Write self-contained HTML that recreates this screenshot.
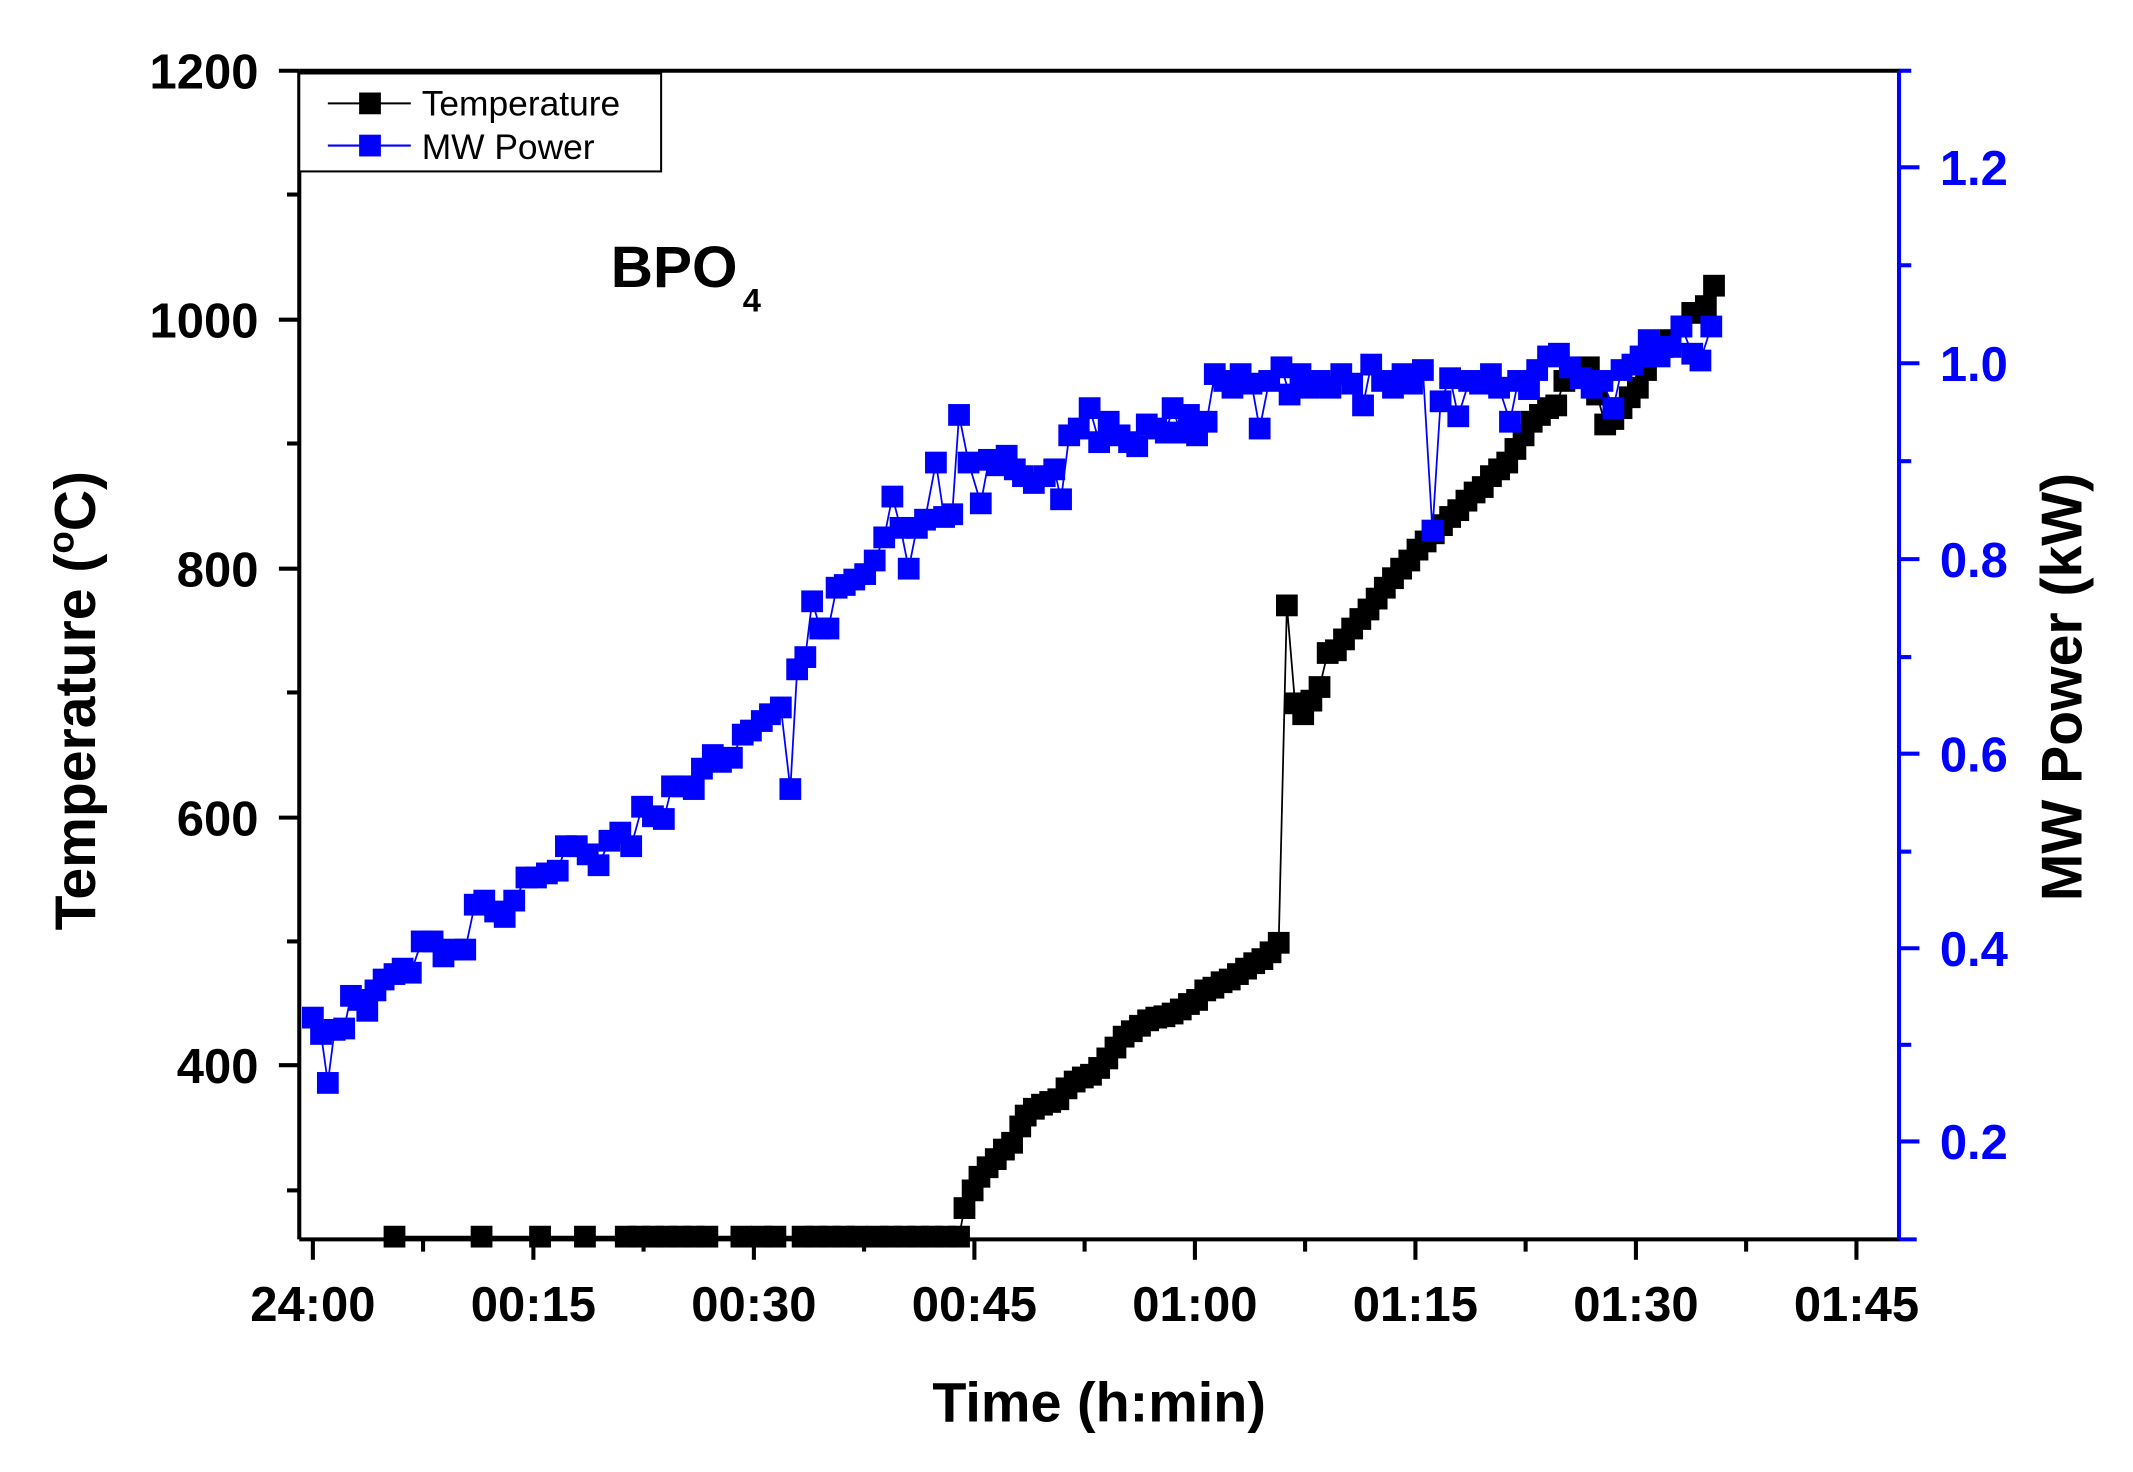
<!DOCTYPE html>
<html><head><meta charset="utf-8"><style>
html,body{margin:0;padding:0;background:#fff;}
svg{display:block;}
text{font-family:"Liberation Sans",Arial,sans-serif;font-weight:bold;}
</style></head><body>
<svg id="s" width="2133" height="1472" viewBox="0 0 1568 1082" preserveAspectRatio="none" xmlns="http://www.w3.org/2000/svg">
<rect width="1568" height="1082" fill="#fff"/>
<g id="data"></g>
<line x1="220" y1="52" x2="1397" y2="52" stroke="#000" stroke-width="3"/>
<line x1="220" y1="911" x2="1397" y2="911" stroke="#000" stroke-width="3"/>
<line x1="220" y1="52" x2="220" y2="911" stroke="#000" stroke-width="3"/>
<line x1="1396" y1="52" x2="1396" y2="911" stroke="#00f" stroke-width="3"/>
<line x1="1396" y1="911" x2="1409" y2="911" stroke="#00f" stroke-width="3"/>
<g id="ticks"></g>
<rect x="220" y="54" width="266" height="72" fill="#fff" stroke="#000" stroke-width="1.5"/>
<line x1="241" y1="76" x2="302" y2="76" stroke="#000" stroke-width="1.5"/>
<rect x="264" y="68" width="16" height="16" fill="#000"/>
<text x="310" y="85" font-size="26" style="font-weight:normal">Temperature</text>
<line x1="241" y1="107" x2="302" y2="107" stroke="#00f" stroke-width="1.5"/>
<rect x="264" y="99" width="16" height="16" fill="#00f"/>
<text x="310" y="117" font-size="26" style="font-weight:normal">MW Power</text>
<text x="449" y="211" font-size="43">BPO</text>
<text x="546" y="229" font-size="24">4</text>
<text transform="translate(70,515) rotate(-90)" text-anchor="middle" font-size="42">Temperature (<tspan font-size="27" dy="-16">o</tspan><tspan dy="16">C)</tspan></text>
<text transform="translate(1530,505) rotate(-90)" text-anchor="middle" font-size="42">MW Power (kW)</text>
<text x="808" y="1045" text-anchor="middle" font-size="41">Time (h:min)</text>
</svg>
<script>
var NS="http://www.w3.org/2000/svg";
function el(p,t,a,txt){var e=document.createElementNS(NS,t);for(var k in a)e.setAttribute(k,a[k]);if(txt)e.textContent=txt;p.appendChild(e);return e;}
var T=document.getElementById("ticks"),D=document.getElementById("data");
[[1200,52],[1000,235],[800,418],[600,601],[400,783]].forEach(function(v){
 el(T,"line",{x1:205,y1:v[1],x2:220,y2:v[1],stroke:"#000","stroke-width":3});
 el(T,"text",{x:190,y:v[1]+13,"text-anchor":"end","font-size":36},String(v[0]));});
[143,326,509,692,875].forEach(function(y){el(T,"line",{x1:211,y1:y,x2:220,y2:y,stroke:"#000","stroke-width":3});});
[["1.2",123],["1.0",267],["0.8",411],["0.6",554],["0.4",697],["0.2",839]].forEach(function(v){
 el(T,"line",{x1:1396,y1:v[1],x2:1411,y2:v[1],stroke:"#00f","stroke-width":3});
 el(T,"text",{x:1426,y:v[1]+13,"font-size":36,fill:"#00f"},v[0]);});
[52,195,339,483,626,768].forEach(function(y){el(T,"line",{x1:1396,y1:y,x2:1405,y2:y,stroke:"#00f","stroke-width":3});});
var xl=["24:00","00:15","00:30","00:45","01:00","01:15","01:30","01:45"];
for(var i=0;i<8;i++){var x=230+i*162.1;
 el(T,"line",{x1:x,y1:911,x2:x,y2:926,stroke:"#000","stroke-width":3});
 el(T,"text",{x:x,y:971,"text-anchor":"middle","font-size":36},xl[i]);
 if(i<7){el(T,"line",{x1:x+81,y1:911,x2:x+81,y2:920,stroke:"#000","stroke-width":3});}}
var blue=[[230,748],[236,760],[241,796],[246,757],[253,756],[258,732],[264,735],[270,743],[276,728],[282,720],[290,716],[296,712],[302,715],[310,692],[318,692],[326,703],[334,698],[342,698],[349,665],[356,662],[364,670],[371,674],[378,662],[387,645],[394,645],[402,642],[410,640],[416,622],[424,622],[432,628],[440,636],[448,618],[456,612],[464,622],[472,593],[480,600],[488,602],[494,578],[502,578],[510,580],[516,565],[524,555],[530,560],[538,557],[546,540],[552,537],[560,530],[566,525],[574,520],[581,580],[586,492],[592,483],[597,442],[603,462],[609,462],[615,432],[621,430],[628,426],[636,422],[643,412],[650,395],[656,365],[662,388],[668,418],[674,388],[680,382],[688,340],[694,380],[700,378],[705,305],[712,340],[721,370],[727,338],[733,342],[740,335],[746,345],[752,350],[760,355],[768,350],[775,345],[780,367],[786,320],[793,315],[801,300],[808,325],[815,310],[823,320],[830,325],[836,328],[843,312],[850,315],[857,318],[862,300],[868,318],[874,305],[880,320],[887,310],[893,275],[900,280],[906,285],[912,275],[920,282],[926,315],[933,280],[942,270],[948,290],[956,275],[962,285],[970,280],[978,285],[986,275],[994,282],[1002,298],[1008,268],[1016,280],[1024,285],[1031,275],[1038,282],[1046,272],[1053,390],[1059,295],[1066,278],[1072,306],[1080,280],[1088,282],[1096,275],[1102,285],[1110,310],[1116,280],[1124,286],[1130,272],[1138,262],[1146,260],[1154,270],[1162,278],[1170,285],[1178,280],[1186,300],[1192,272],[1200,268],[1206,262],[1212,250],[1220,262],[1228,255],[1236,240],[1244,260],[1250,265],[1258,240]];
var black=[];
[290,354,397,430,460,470,480,490,500,510,520,545,560,570,590,600,610,620,630,645,655,665,675,685,695,705].forEach(function(x){black.push([x,909]);});
black=black.concat([[709,888],[715,875],[720,865],[726,858],[732,852],[738,845],[744,840],[750,828],[754,820],[760,815],[766,812],[772,810],[778,808],[784,800],[790,795],[796,792],[802,790],[808,785],[814,778],[820,770],[826,762],[832,758],[838,754],[844,750],[850,748],[856,747],[862,745],[868,742],[874,738],[880,735],[886,728],[892,726],[898,722],[904,720],[910,716],[916,712],[922,708],[928,705],[934,700],[940,693],[946,445],[952,517],[958,525],[964,515],[970,505],[976,480],[982,478],[988,470],[994,462],[1000,455],[1006,448],[1012,440],[1018,432],[1024,425],[1030,418],[1036,412],[1042,404],[1048,398],[1054,392],[1060,386],[1066,380],[1072,375],[1078,368],[1084,362],[1090,358],[1096,350],[1102,345],[1108,340],[1114,330],[1120,320],[1126,310],[1132,305],[1138,300],[1144,298],[1150,280],[1156,275],[1162,272],[1168,270],[1174,290],[1180,312],[1186,308],[1192,300],[1198,292],[1204,285],[1210,272],[1216,260],[1222,255],[1228,250],[1236,240],[1244,230],[1254,225],[1260,210]]);
function series(pts,c){
 el(D,"polyline",{points:pts.map(function(p){return p.join(",");}).join(" "),fill:"none",stroke:c,"stroke-width":1.3});
 pts.forEach(function(p){el(D,"rect",{x:p[0]-8,y:p[1]-8,width:16,height:16,fill:c});});}
series(black,"#000");series(blue,"#00f");
</script>
</body></html>
